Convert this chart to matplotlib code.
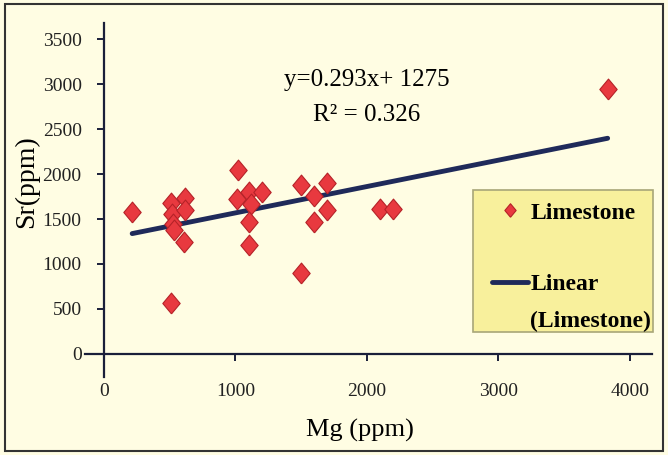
import matplotlib.pyplot as plt
from matplotlib.patches import Rectangle

# Mg vs Sr (ppm), limestone samples
mg = [215, 510, 520, 525, 530, 620, 620, 610, 510, 1020, 1010, 1100, 1120,
      1200, 1100, 1100, 1500, 1600, 1700, 1700, 1600, 1500, 2100, 2200, 3830]
sr = [1580, 1680, 1560, 1450, 1380, 1730, 1600, 1240, 570, 2050, 1720, 1800,
      1670, 1800, 1470, 1210, 1880, 1760, 1900, 1600, 1470, 900, 1610, 1610, 2950]

slope = 0.293
intercept = 1275
r2 = 0.326
fit_x = [min(mg), max(mg)]
fit_y = [slope * v + intercept for v in fit_x]

x_ticks = [0, 1000, 2000, 3000, 4000]
y_ticks = [0, 500, 1000, 1500, 2000, 2500, 3000, 3500]

plt.rcParams['font.family'] = ['Liberation Serif', 'DejaVu Serif']

bg = '#FFFDE3'
diamond = [(0, -1.2), (1, 0), (0, 1.2), (-1, 0), (0, -1.2)]

fig = plt.figure(figsize=(6.68, 4.55), dpi=100, facecolor=bg)
ax = fig.add_axes([0.1272, 0.1714, 0.8488, 0.778])
ax.set_facecolor(bg)

ax.plot(fit_x, fit_y, color='#1F2A5A', linewidth=3.5, solid_capstyle='round',
        label='Linear', zorder=2)
ax.plot(mg, sr, linestyle='none', marker=diamond, markersize=15,
        markerfacecolor='#E8393F', markeredgecolor='#B52228', markeredgewidth=0.8,
        label='Limestone', zorder=3)

ax.set_xlim(-144, 4167)
ax.set_ylim(-256, 3678)
ax.spines['left'].set_position(('data', 0))
ax.spines['bottom'].set_position(('data', 0))
ax.spines['top'].set_visible(False)
ax.spines['right'].set_visible(False)
for s in ('left', 'bottom'):
    ax.spines[s].set_color('#1A1F3A')
    ax.spines[s].set_linewidth(1.6)

ax.set_xticks(x_ticks)
ax.set_yticks(y_ticks)
ax.tick_params(axis='both', colors='#1A1F3A', labelcolor='#222222',
               labelsize=14, length=5, width=1.4)
ax.tick_params(axis='x', direction='out', pad=16)
ax.tick_params(axis='y', direction='out', pad=11)

ax.text(2000, 3050, 'y=0.293x+ 1275', ha='center', va='center', fontsize=18)
ax.text(2000, 2660, 'R\u00b2 = %.3f' % r2, ha='center', va='center', fontsize=18)

fig.text(0.539, 0.054, 'Mg (ppm)', ha='center', va='center', fontsize=19)
fig.text(0.04, 0.6, 'Sr(ppm)', ha='center', va='center', fontsize=20, rotation=90)

# legend box (drawn separately so the padding can match the original)
fig.patches.append(Rectangle((0.708, 0.2703), 0.2695, 0.3121, transform=fig.transFigure,
                             facecolor='#F8F09C', edgecolor='#A8A678', linewidth=1.2,
                             zorder=4))
handles, labels = ax.get_legend_handles_labels()
leg = fig.legend(handles[::-1], labels[::-1], loc='upper left',
                 bbox_to_anchor=(0.7365, 0.556), frameon=False,
                 prop={'weight': 'bold', 'size': 17}, handlelength=1.53,
                 handletextpad=0.1, labelspacing=2.12, borderpad=0,
                 borderaxespad=0, markerscale=0.65)
leg.set_zorder(5)
fig.text(0.7935, 0.2945, '(Limestone)', ha='left', va='center', fontsize=17,
         fontweight='bold', zorder=6)

fig.patches.append(Rectangle((0.007, 0.009), 0.986, 0.982, transform=fig.transFigure,
                             fill=False, edgecolor='#333333', linewidth=1.5))

fig.savefig('out.png', dpi=100, facecolor=bg)
